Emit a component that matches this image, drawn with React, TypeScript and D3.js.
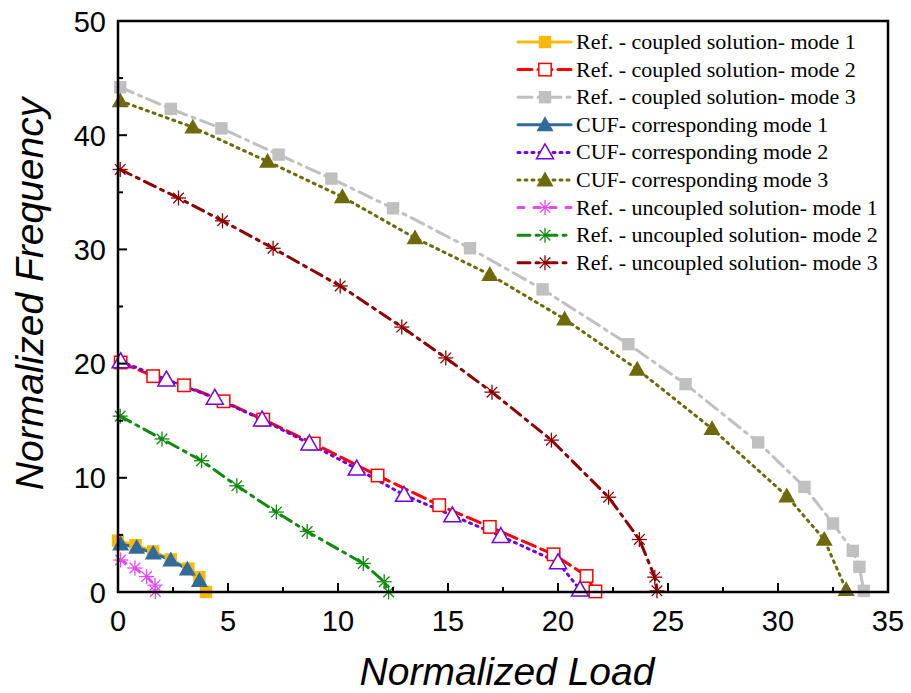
import React from "react";
import * as d3 from "d3";

const seriesNames = [
  "Ref. - coupled solution- mode 1",
  "Ref. - coupled solution- mode 2",
  "Ref. - coupled solution- mode 3",
  "CUF- corresponding mode 1",
  "CUF- corresponding mode 2",
  "CUF- corresponding mode 3",
  "Ref. - uncoupled solution- mode 1",
  "Ref. - uncoupled solution- mode 2",
  "Ref. - uncoupled solution- mode 3",
];

const coupled1: [number, number][] = [[0, 4.5], [0.8, 4.1], [1.6, 3.55], [2.4, 2.85], [3.2, 2.05], [3.7, 1.3], [4.0, 0]];
const coupled2: [number, number][] = [[0.12, 20.1], [1.6, 18.9], [3.0, 18.1], [4.8, 16.7], [6.6, 15.1], [8.9, 13.0], [11.8, 10.2], [14.6, 7.6], [16.9, 5.7], [19.8, 3.3], [21.3, 1.4], [21.7, 0.05]];
const coupled3: [number, number][] = [[0.1, 44.2], [2.4, 42.3], [4.7, 40.6], [7.3, 38.3], [9.7, 36.2], [12.5, 33.6], [16.0, 30.1], [19.3, 26.5], [23.2, 21.7], [25.8, 18.2], [29.1, 13.1], [31.2, 9.2], [32.5, 6.0], [33.4, 3.6], [33.7, 2.2], [33.9, 0.1]];
const cuf1: [number, number][] = [[0.12, 4.2], [0.85, 3.9], [1.6, 3.4], [2.4, 2.8], [3.15, 2.0], [3.7, 1.0]];
const cuf2: [number, number][] = [[0.12, 20.2], [2.2, 18.6], [4.4, 17.0], [6.55, 15.1], [8.7, 13.0], [10.85, 10.8], [13.0, 8.5], [15.2, 6.7], [17.4, 4.9], [20.0, 2.6], [21.0, 0.2]];
const cuf3: [number, number][] = [[0.1, 43.0], [3.4, 40.7], [6.8, 37.7], [10.2, 34.6], [13.5, 31.0], [16.9, 27.8], [20.3, 23.9], [23.6, 19.5], [27.0, 14.3], [30.4, 8.4], [32.1, 4.6], [33.1, 0.2]];
const uncoupled1: [number, number][] = [[0.12, 2.8], [0.77, 2.1], [1.3, 1.35], [1.68, 0.6], [1.7, 0.05]];
const uncoupled2: [number, number][] = [[0.1, 15.4], [2.0, 13.4], [3.8, 11.5], [5.4, 9.3], [7.2, 7.0], [8.6, 5.3], [11.15, 2.5], [12.1, 0.9], [12.3, 0.0]];
const uncoupled3: [number, number][] = [[0.1, 37.0], [2.75, 34.5], [4.75, 32.5], [7.05, 30.1], [10.1, 26.8], [12.9, 23.2], [14.9, 20.5], [17.0, 17.5], [19.7, 13.3], [22.3, 8.3], [23.7, 4.6], [24.4, 1.3], [24.5, 0.1]];

const xTicks = [0, 5, 10, 15, 20, 25, 30, 35];
const yTicks = [0, 10, 20, 30, 40, 50];

type Style = { color: string; dash: string; marker: string; fill: boolean; width: number };

const styles: Style[] = [
  { color: "#F9B90A", dash: "none", marker: "square", fill: true, width: 3 },
  { color: "#FF0000", dash: "14,6", marker: "square", fill: false, width: 3 },
  { color: "#C0C0C0", dash: "14,6,3,6", marker: "square", fill: true, width: 3 },
  { color: "#336A9C", dash: "none", marker: "triangle", fill: true, width: 3 },
  { color: "#7300E0", dash: "2,5", marker: "triangle", fill: false, width: 3 },
  { color: "#6E6A0C", dash: "2,5", marker: "triangle", fill: true, width: 3 },
  { color: "#E54BF2", dash: "6,10", marker: "star", fill: true, width: 3 },
  { color: "#128A12", dash: "12,6,3,6", marker: "star", fill: true, width: 3 },
  { color: "#8B0000", dash: "12,6,3,6", marker: "star", fill: true, width: 3 },
];

const allData = [coupled1, coupled2, coupled3, cuf1, cuf2, cuf3, uncoupled1, uncoupled2, uncoupled3];

function Marker({ x, y, s }: { x: number; y: number; s: Style }) {
  if (s.marker === "square") {
    const h = 6.2;
    return s.fill ? (
      <rect x={x - h} y={y - h} width={2 * h} height={2 * h} fill={s.color} />
    ) : (
      <rect x={x - h} y={y - h} width={2 * h} height={2 * h} fill="white" stroke={s.color} strokeWidth={1.5} />
    );
  }
  if (s.marker === "triangle") {
    const r = 8.5;
    const pts = `${x},${y - r} ${x - r},${y + r * 0.75} ${x + r},${y + r * 0.75}`;
    return s.fill ? (
      <polygon points={pts} fill={s.color} />
    ) : (
      <polygon points={pts} fill="white" stroke={s.color} strokeWidth={1.5} />
    );
  }
  const r = 7.5;
  const angs = [0, 45, 90, 135];
  return (
    <g>
      {angs.map((a) => {
        const dx = r * Math.cos((a * Math.PI) / 180);
        const dy = r * Math.sin((a * Math.PI) / 180);
        return <line key={a} x1={x - dx} y1={y - dy} x2={x + dx} y2={y + dy} stroke={s.color} strokeWidth={1.3} />;
      })}
    </g>
  );
}

export default function App() {
  const W = 911, H = 693;
  const left = 118, right = 888, top = 21, bottom = 592;
  const x = d3.scaleLinear().domain([0, 35]).range([left, right]);
  const y = d3.scaleLinear().domain([0, 50]).range([bottom, top]);
  const line = d3.line<[number, number]>().x((d) => x(d[0])).y((d) => y(d[1]));
  const xMinor = d3.range(0, 35.01, 2.5);
  const yMinor = d3.range(0, 50.01, 5);
  const legX = 518, legY0 = 42, legDy = 27.6;

  return (
    <svg width={W} height={H} style={{ position: "absolute", left: 0, top: 0, background: "white" }}>
      {allData.map((d, i) => (
        <path key={"l" + i} d={line(d) || ""} fill="none" stroke={styles[i].color} strokeWidth={styles[i].width}
          strokeDasharray={styles[i].dash} strokeLinecap="round" />
      ))}
      {allData.map((d, i) => (
        <g key={"m" + i}>
          {d.map((p, j) => (
            <Marker key={j} x={x(p[0])} y={y(p[1])} s={styles[i]} />
          ))}
        </g>
      ))}
      {xMinor.map((v, i) => (
        <line key={"xt" + i} x1={x(v)} x2={x(v)} y1={bottom} y2={bottom - (i % 2 === 0 ? 9 : 5)} stroke="black" strokeWidth={2} />
      ))}
      {yMinor.map((v, i) => (
        <line key={"yt" + i} x1={left} x2={left + (i % 2 === 0 ? 9 : 5)} y1={y(v)} y2={y(v)} stroke="black" strokeWidth={2} />
      ))}
      <rect x={left} y={top} width={right - left} height={bottom - top} fill="none" stroke="black" strokeWidth={2.5} />
      {xTicks.map((v) => (
        <text key={"xl" + v} x={x(v)} y={631} textAnchor="middle" fontFamily="Liberation Sans, Arial, sans-serif" fontSize={29}>{v}</text>
      ))}
      {yTicks.map((v) => (
        <text key={"yl" + v} x={106} y={y(v) + 10.5} textAnchor="end" fontFamily="Liberation Sans, Arial, sans-serif" fontSize={29}>{v}</text>
      ))}
      <text x={507} y={685} textAnchor="middle" fontFamily="Liberation Sans, Arial, sans-serif" fontSize={39} fontStyle="italic">Normalized Load</text>
      <text transform={`translate(43,294) rotate(-90)`} textAnchor="middle" fontFamily="Liberation Sans, Arial, sans-serif" fontSize={39} fontStyle="italic">Normalized Frequency</text>
      {seriesNames.map((n, i) => {
        const ly = legY0 + i * legDy;
        const s = styles[i];
        return (
          <g key={"lg" + i}>
            <line x1={legX} x2={legX + 53} y1={ly} y2={ly} stroke={s.color} strokeWidth={s.width} strokeDasharray={s.dash} strokeLinecap="round" />
            <Marker x={legX + 27} y={ly} s={s} />
            <text x={legX + 58} y={ly + 7} fontFamily="Liberation Serif, Times New Roman, serif" fontSize={22}>{n}</text>
          </g>
        );
      })}
    </svg>
  );
}
